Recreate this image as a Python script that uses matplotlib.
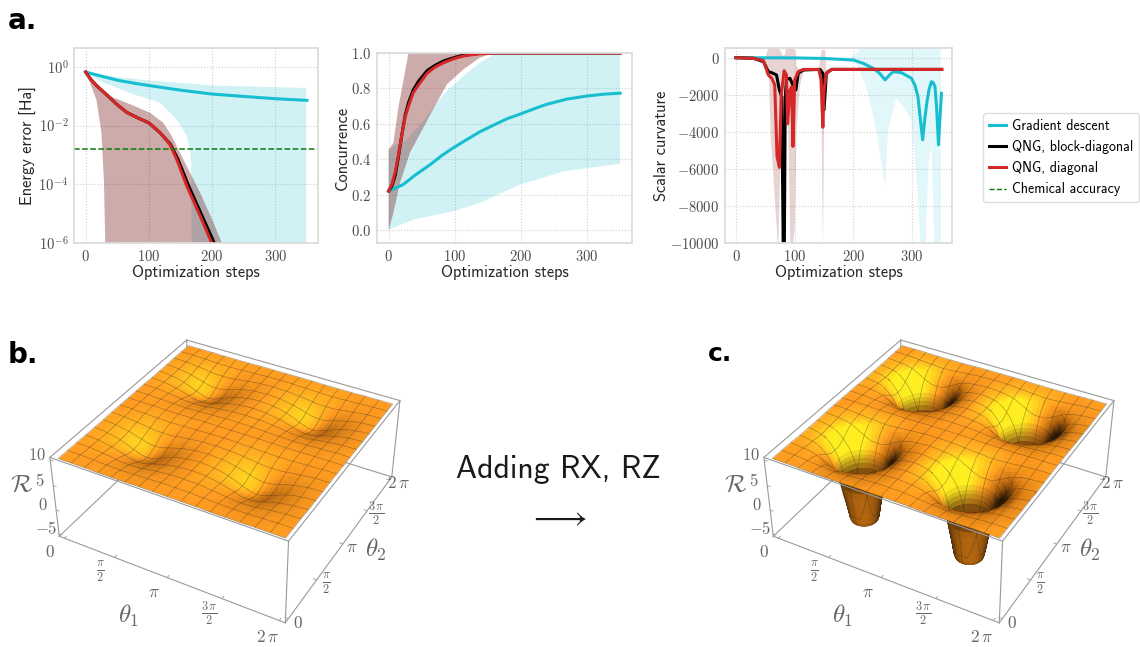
import numpy as np
import matplotlib
matplotlib.use('Agg')
import matplotlib.pyplot as plt
from matplotlib.colors import LinearSegmentedColormap
from mpl_toolkits.mplot3d import proj3d
from mpl_toolkits.mplot3d.art3d import Poly3DCollection

plt.rcParams['font.family'] = ['cmss10']
plt.rcParams['mathtext.fontset'] = 'cm'
plt.rcParams['mathtext.default'] = 'rm'
plt.rcParams['axes.unicode_minus'] = False

CYAN = '#17becf'
RED = '#d62728'

# panel a: energy error
gd_steps = [0, 25, 50, 75, 100, 150, 200, 250, 300, 350]
gd_energy = [0.66, 0.48, 0.35, 0.28, 0.23, 0.16, 0.118, 0.098, 0.082, 0.072]
gd_up_steps = [0, 49, 102, 202, 349]
gd_up_energy = [0.66, 0.45, 0.34, 0.23, 0.19]
gd_low_steps = [349, 168, 167, 165, 160, 144, 118, 75, 23, 0]
gd_low_energy = [1e-8, 1e-8, 5.4e-4, 1.5e-3, 4.4e-3, 1.6e-2, 5.9e-2, 0.117, 0.32, 0.66]
qng_steps = [0, 7, 17, 33, 50, 65, 83, 100, 118, 133, 144, 160, 181, 199, 205]
red_energy = [0.66, 0.40, 0.23, 0.112, 0.051, 0.028, 0.018, 0.0123, 5.6e-3, 2.3e-3, 7.1e-4, 8.7e-5, 8.5e-6, 1.05e-6, 4e-7]
black_steps = [0, 7, 17, 33, 50, 65, 83, 100, 118, 134, 146, 163, 184, 203, 209]
qng_up_steps = [0, 12, 23, 43, 75, 102, 123, 136, 149, 165, 181, 202, 215, 225]
qng_up_energy = [0.66, 0.32, 0.16, 0.091, 0.048, 0.027, 0.0123, 4.4e-3, 1.2e-3, 2.5e-4, 5.2e-5, 5e-6, 1.05e-6, 1e-7]
qng_low_steps = [33, 31, 29, 25, 17, 7, 0]
qng_low_energy = [1e-8, 1.05e-6, 1.15e-4, 5.6e-3, 7.6e-2, 0.28, 0.66]
chem_accuracy = 1.6e-3

# panel b: concurrence
gd_c_steps = [0, 22, 40, 63, 80, 98, 120, 138, 160, 180, 199, 220, 239, 270, 300, 325, 350]
gd_conc = [0.22, 0.257, 0.31, 0.37, 0.42, 0.465, 0.515, 0.555, 0.595, 0.63, 0.655, 0.685, 0.71, 0.74, 0.757, 0.767, 0.773]
gd_c_up_steps = [0, 12, 25, 52, 83, 88, 113, 138, 159, 164, 350]
gd_c_up = [0.455, 0.483, 0.50, 0.615, 0.766, 0.785, 0.87, 0.945, 0.992, 1.0, 1.0]
gd_c_low_steps = [350, 265, 199, 138, 98, 37, 12, 0]
gd_c_low = [0.374, 0.332, 0.257, 0.153, 0.106, 0.058, 0.02, 0.0]
qng_c_steps = [0, 5, 10, 15, 20, 25, 30, 37, 45, 58, 70, 83, 100, 113, 138, 164, 350]
red_conc = [0.22, 0.26, 0.33, 0.43, 0.54, 0.64, 0.70, 0.775, 0.82, 0.885, 0.92, 0.945, 0.97, 0.983, 0.996, 1.0, 1.0]
black_conc = [0.22, 0.25, 0.31, 0.42, 0.54, 0.65, 0.72, 0.79, 0.84, 0.90, 0.93, 0.955, 0.975, 0.988, 0.998, 1.0, 1.0]
qng_c_up_steps = [0, 7, 15, 30, 350]
qng_c_up = [0.455, 0.49, 0.70, 1.0, 1.0]
qng_c_low_steps = [350, 159, 138, 113, 88, 63, 32, 17, 7, 0]
qng_c_low = [1.0, 1.0, 0.974, 0.908, 0.823, 0.653, 0.436, 0.266, 0.096, 0.0]

# panel c: scalar curvature
gd_r_steps = [0, 100, 150, 200, 217, 234, 245, 254, 261, 268, 282, 299, 305, 310, 314, 318, 322, 325, 329, 333, 336, 339, 342, 345, 348, 350]
gd_curv = [0, -10, -40, -125, -305, -575, -850, -1200, -950, -750, -810, -1110, -1500, -2100, -3300, -4430, -3200, -2460, -1700, -1290, -1350, -1560, -2800, -4700, -3000, -1920]
gd_r_up_steps = [0, 195, 214, 349]
gd_r_up = [0, 0, 500, 2000]
gd_r_low_steps = [349, 345, 338, 333, 328, 323, 318, 314, 310, 299, 285, 273, 259, 254, 239, 222, 205, 195, 0]
gd_r_low = [-10000, -13000, -10000, -4700, -5700, -10000, -13000, -10000, -7490, -3360, -2640, -2190, -3900, -6950, -3900, -1560, -305, -40, 0]
black_r_steps = [0, 30, 47, 55, 61, 69, 74, 78, 81, 82, 84, 86, 92, 98, 102, 106, 115, 143, 148, 150, 154, 163, 350]
black_curv = [0, -30, -215, -750, -810, -930, -1740, -2100, -12000, -12000, -2100, -1170, -1110, -1560, -1740, -840, -660, -630, -840, -2820, -840, -630, -630]
red_r_steps = [0, 30, 47, 55, 61, 66, 70, 74, 77, 82, 86, 88, 92, 95, 97, 100, 106, 115, 141, 145, 148, 150, 154, 163, 351]
red_curv = [0, -36, -160, -930, -1110, -1470, -5330, -5920, -2100, -700, -930, -3570, -1740, -1560, -4790, -1200, -750, -630, -630, -1200, -3750, -1740, -840, -630, -630]
qng_r_up_steps = [0, 50, 56, 72, 80, 83, 86, 100, 103, 109, 141, 146, 152, 154, 350]
qng_r_up = [0, 0, 600, 600, 100, 150, 600, 600, -480, -630, -630, 420, 420, -630, -630]
qng_r_low_steps = [350, 163, 153, 150, 148, 146, 141, 115, 109, 103, 100, 95, 93, 89, 82, 78, 72, 59, 56, 50, 0]
qng_r_low = [-630, -630, -840, -3900, -10500, -3900, -630, -750, -1500, -3900, -9300, -10500, -10500, -3900, -1300, -2000, -10500, -4000, -1000, -100, 0]

step_ticks = [0, 100, 200, 300]
step_labels = ['$0$', '$100$', '$200$', '$300$']
energy_ticks = [1, 1e-2, 1e-4, 1e-6]
energy_labels = ['$10^{0}$', '$10^{-2}$', '$10^{-4}$', '$10^{-6}$']
conc_ticks = [0.0, 0.2, 0.4, 0.6, 0.8, 1.0]
conc_labels = ['$0.0$', '$0.2$', '$0.4$', '$0.6$', '$0.8$', '$1.0$']
curv_ticks = [0, -2000, -4000, -6000, -8000, -10000]
curv_labels = ['$0$', '$-2000$', '$-4000$', '$-6000$', '$-8000$', '$-10000$']

# curvature over one pi x pi cell, centre of a dip at index [0][0], spacing pi/24
cell_b = np.array([
    [7.4, 7.5, 7.8, 8.1, 8.5, 8.85, 9.15, 9.4, 9.6, 9.7, 9.85, 9.9, 9.95],
    [7.5, 7.6, 7.85, 8.15, 8.55, 8.9, 9.15, 9.4, 9.6, 9.75, 9.85, 9.9, 9.95],
    [7.8, 7.85, 8.05, 8.3, 8.65, 9.0, 9.2, 9.45, 9.6, 9.75, 9.85, 9.9, 9.95],
    [8.1, 8.15, 8.3, 8.6, 8.85, 9.1, 9.3, 9.5, 9.65, 9.8, 9.85, 9.9, 9.95],
    [8.5, 8.55, 8.65, 8.85, 9.05, 9.25, 9.45, 9.6, 9.7, 9.8, 9.9, 9.95, 9.95],
    [8.85, 8.9, 9.0, 9.1, 9.25, 9.4, 9.55, 9.7, 9.75, 9.85, 9.9, 9.95, 10],
    [9.15, 9.15, 9.2, 9.3, 9.45, 9.55, 9.65, 9.75, 9.85, 9.9, 9.95, 9.95, 10],
    [9.4, 9.4, 9.45, 9.5, 9.6, 9.7, 9.75, 9.8, 9.9, 9.9, 9.95, 10, 10],
    [9.6, 9.6, 9.6, 9.65, 9.7, 9.75, 9.85, 9.9, 9.9, 9.95, 10, 10, 10],
    [9.7, 9.75, 9.75, 9.8, 9.8, 9.85, 9.9, 9.9, 9.95, 10, 10, 10, 10],
    [9.85, 9.85, 9.85, 9.85, 9.9, 9.9, 9.95, 9.95, 10, 10, 10, 10, 10],
    [9.9, 9.9, 9.9, 9.9, 9.95, 9.95, 9.95, 10, 10, 10, 10, 10, 10],
    [9.95, 9.95, 9.95, 9.95, 9.95, 10, 10, 10, 10, 10, 10, 10, 10],
])
cell_c = np.array([
    [-5, -5, -5, -5, 1.2, 5.0, 7.0, 8.2, 9.0, 9.4, 9.65, 9.8, 9.9],
    [-5, -5, -5, -4.5, 1.8, 5.2, 7.1, 8.3, 9.0, 9.4, 9.65, 9.8, 9.9],
    [-5, -5, -5, -1, 3.4, 5.9, 7.4, 8.4, 9.1, 9.5, 9.7, 9.8, 9.9],
    [-5, -4.5, -1, 2.4, 5.0, 6.7, 7.9, 8.7, 9.3, 9.55, 9.7, 9.85, 9.9],
    [1.2, 1.8, 3.4, 5.0, 6.4, 7.5, 8.4, 9.0, 9.4, 9.6, 9.75, 9.85, 9.9],
    [5.0, 5.2, 5.9, 6.7, 7.5, 8.3, 8.9, 9.3, 9.55, 9.7, 9.8, 9.9, 9.95],
    [7.0, 7.1, 7.4, 7.9, 8.4, 8.9, 9.2, 9.5, 9.65, 9.75, 9.85, 9.9, 9.95],
    [8.2, 8.3, 8.4, 8.7, 9.0, 9.3, 9.5, 9.6, 9.75, 9.85, 9.9, 9.95, 10],
    [9.0, 9.0, 9.1, 9.3, 9.4, 9.55, 9.65, 9.75, 9.85, 9.9, 9.95, 10, 10],
    [9.4, 9.4, 9.5, 9.55, 9.6, 9.7, 9.75, 9.85, 9.9, 9.95, 10, 10, 10],
    [9.65, 9.65, 9.7, 9.7, 9.75, 9.8, 9.85, 9.9, 9.95, 10, 10, 10, 10],
    [9.8, 9.8, 9.8, 9.85, 9.85, 9.9, 9.9, 9.95, 10, 10, 10, 10, 10],
    [9.9, 9.9, 9.9, 9.9, 9.9, 9.95, 9.95, 10, 10, 10, 10, 10, 10],
])
# wall of the deep dips in panel c, radius from the dip centre against curvature
tube_radius = [0, 0.36, 0.39, 0.42, 0.45, 0.48, 0.51, 0.54, 0.57, 0.60, 0.63, 0.66, 0.70, 0.75, 0.80, 0.85, 0.90, 0.95, 1.00, 1.05, 1.10]
tube_height = [-5, -5, -4.4, -3.2, -1.9, -0.7, 0.4, 1.6, 2.8, 3.7, 4.5, 5.1, 5.9, 6.55, 7.15, 7.6, 8.05, 8.4, 8.7, 9.0, 9.2]
dip_centres = [np.pi / 2, 3 * np.pi / 2]
mesh_offsets = [-np.pi / 4, -np.pi / 8, 0, np.pi / 8, np.pi / 4]

angle_ticks = [0, np.pi / 2, np.pi, 3 * np.pi / 2, 2 * np.pi]
angle_labels = ['$0$', r'$\frac{\pi}{2}$', r'$\pi$', r'$\frac{3\,\pi}{2}$', r'$2\,\pi$']
curv_3d_ticks = [-5, 0, 5, 10]
curv_3d_labels = ['$-5$', '$0$', '$5$', '$10$']

W, H = 1140, 647
ELEV, AZIM, FOCAL = 36.5, -61, 0.45
XLIM = (-0.16, 2 * np.pi + 0.16)
ZLIM = (-5.5, 10.5)
BOX_Z = 0.385
LIGHT = np.array([0.72, -0.42, 0.55])
ramp = LinearSegmentedColormap.from_list(
    'mma', [(0, '#2a1500'), (0.35, '#b5630c'), (0.667, '#ff9b1e'), (1, '#ffee1e')])

el_rad, az_rad = np.radians(ELEV), np.radians(AZIM)
CAM = np.array([np.cos(el_rad) * np.cos(az_rad), np.cos(el_rad) * np.sin(az_rad), np.sin(el_rad)])
SX = 1 / (XLIM[1] - XLIM[0])
SZ = BOX_Z / (ZLIM[1] - ZLIM[0])
LIFT = 0.03 * CAM / np.array([SX, SX, SZ])

fig = plt.figure(figsize=(W / 100, H / 100), dpi=100, facecolor='white')


def rect(left, top, right, bottom):
    return [left / W, 1 - bottom / H, (right - left) / W, (bottom - top) / H]


def style_axis(ax, xt, xl, yt, yl, ylabel):
    ax.set_xticks(xt)
    ax.set_xticklabels(xl)
    ax.set_yticks(yt)
    ax.set_yticklabels(yl)
    ax.minorticks_off()
    ax.tick_params(length=0, labelsize=10.5, labelcolor='#4a4a4a', pad=4)
    ax.grid(True, color='#cfcfcf', linestyle=':', linewidth=0.8)
    ax.set_axisbelow(True)
    for s in ax.spines.values():
        s.set_color('#dcdcdc')
        s.set_linewidth(1.3)
    ax.set_xlabel('Optimization steps', fontsize=11.8, color='#262626', labelpad=1)
    ax.set_ylabel(ylabel, fontsize=11.8, color='#262626', labelpad=1)


# top row
ax1 = fig.add_axes(rect(74, 48, 318, 243))
ax1.set_yscale('log')
ax1.fill(gd_up_steps + gd_low_steps, gd_up_energy + gd_low_energy, color=CYAN, alpha=0.2, lw=0)
ax1.fill(qng_up_steps + qng_low_steps, qng_up_energy + qng_low_energy, color='black', alpha=0.2, lw=0)
ax1.fill(qng_up_steps + qng_low_steps, qng_up_energy + qng_low_energy, color=RED, alpha=0.2, lw=0)
ax1.plot(gd_steps, gd_energy, color=CYAN, lw=2.2)
ax1.plot(black_steps, red_energy, color='black', lw=2.2)
ax1.plot(qng_steps, red_energy, color=RED, lw=2.2)
ax1.axhline(chem_accuracy, color='#0a7a0a', ls='--', lw=1.1)
ax1.set_xlim(-18.5, 367.6)
ax1.set_ylim(1e-6, 10 ** 0.64)
style_axis(ax1, step_ticks, step_labels, energy_ticks, energy_labels, 'Energy error [Ha]')

ax2 = fig.add_axes(rect(377, 53, 632, 243))
ax2.fill(gd_c_up_steps + gd_c_low_steps, gd_c_up + gd_c_low, color=CYAN, alpha=0.2, lw=0)
ax2.fill(qng_c_up_steps + qng_c_low_steps, qng_c_up + qng_c_low, color='black', alpha=0.2, lw=0)
ax2.fill(qng_c_up_steps + qng_c_low_steps, qng_c_up + qng_c_low, color=RED, alpha=0.2, lw=0)
ax2.plot(gd_c_steps, gd_conc, color=CYAN, lw=2.2)
ax2.plot(qng_c_steps, black_conc, color='black', lw=2.2)
ax2.plot(qng_c_steps, red_conc, color=RED, lw=2.2)
ax2.set_xlim(-17.7, 368)
ax2.set_ylim(-0.0736, 1.0)
style_axis(ax2, step_ticks, step_labels, conc_ticks, conc_labels, 'Concurrence')

ax3 = fig.add_axes(rect(725, 48, 952, 243))
ax3.fill(gd_r_up_steps + gd_r_low_steps, gd_r_up + gd_r_low, color=CYAN, alpha=0.12, lw=0)
ax3.fill(qng_r_up_steps + qng_r_low_steps, qng_r_up + qng_r_low, color='black', alpha=0.08, lw=0)
ax3.fill(qng_r_up_steps + qng_r_low_steps, qng_r_up + qng_r_low, color=RED, alpha=0.12, lw=0)
ax3.plot(gd_r_steps, gd_curv, color=CYAN, lw=2.2, label='Gradient descent')
ax3.plot(black_r_steps, black_curv, color='black', lw=2.2, label='QNG, block-diagonal')
ax3.plot(red_r_steps, red_curv, color=RED, lw=2.2, label='QNG, diagonal')
ax3.plot([], [], color='#0a7a0a', ls='--', lw=1.0, label='Chemical accuracy')
ax3.set_xlim(-18.7, 368)
ax3.set_ylim(-10000, 525)
style_axis(ax3, step_ticks, step_labels, curv_ticks, curv_labels, 'Scalar curvature')
ax3.legend(loc='upper left', bbox_to_anchor=(983 / W, 1 - 113 / H), bbox_transform=fig.transFigure,
           fontsize=10, frameon=True, fancybox=True, framealpha=1, edgecolor='#dddddd',
           borderaxespad=0, borderpad=0.42, handlelength=1.22, handletextpad=0.42, labelspacing=0.52)


def shade(fx, fy, fz, zc, gain):
    """colour of a facet from its upward normal and height"""
    lit = fx * LIGHT[0] + fy * LIGHT[1] + fz * LIGHT[2]
    t = np.clip((gain * (lit - LIGHT[2]) + 0.7) / 1.05, 0, 1)
    rgba = ramp(t)
    # low on the walls it turns brown, dark towards the silhouette
    f = fx * CAM[0] + fy * CAM[1] + fz * CAM[2]
    k = (0.35 + 0.9 * np.abs(f)) * np.where(f > 0, 0.6, 1.0)
    wall = np.array([0.72, 0.41, 0.06]) * k[..., None]
    w = np.clip((6.0 - zc) / 4.0, 0, 1)[..., None]
    rgba[..., :3] = rgba[..., :3] * (1 - w) + np.clip(wall, 0, 1) * w
    return rgba


def tube_parts(cx, cy):
    """facets of one deep dip, from the radial arrays"""
    r = np.array(tube_radius)
    h = np.array(tube_height)
    phi = np.arange(49) * np.pi / 24
    x = cx + np.outer(r, np.cos(phi))
    y = cy + np.outer(r, np.sin(phi))
    z = np.outer(h, np.ones(49))
    pts = np.stack([x, y, z], axis=-1)
    faces = np.stack([pts[:-1, :-1], pts[1:, :-1], pts[1:, 1:], pts[:-1, 1:]], axis=2).reshape(-1, 4, 3)
    slope = np.diff(h) * SZ / (np.diff(r) * SX)
    mid = (phi[:-1] + phi[1:]) / 2
    nrm = np.sqrt(slope ** 2 + 1)
    fx = np.outer(-slope / nrm, np.cos(mid))
    fy = np.outer(-slope / nrm, np.sin(mid))
    fz = np.outer(1 / nrm, np.ones(48))
    zc = np.outer((h[:-1] + h[1:]) / 2, np.ones(48))
    return faces, fx.ravel(), fy.ravel(), fz.ravel(), zc.ravel()


def tube_mesh(cx, cy):
    """mesh lines where the grid planes cut one deep dip"""
    seg = []
    r = np.array(tube_radius)[1:]
    h = np.array(tube_height)[1:]
    for d in mesh_offsets:
        keep = r > abs(d)
        off = np.sqrt(r[keep] ** 2 - d ** 2)
        zz = h[keep]
        if d != 0:
            path = np.concatenate([-off[::-1], off])
            hh = np.concatenate([zz[::-1], zz])
            for a, b, za, zb in zip(path[:-1], path[1:], hh[:-1], hh[1:]):
                seg.append([[cx + d, cy + a, za], [cx + d, cy + b, zb], [cx + d, cy + b, zb], [cx + d, cy + a, za]])
                seg.append([[cx + a, cy + d, za], [cx + b, cy + d, zb], [cx + b, cy + d, zb], [cx + a, cy + d, za]])
        else:
            for sign in [-1, 1]:
                for a, b, za, zb in zip(sign * off[:-1], sign * off[1:], zz[:-1], zz[1:]):
                    seg.append([[cx, cy + a, za], [cx, cy + b, zb], [cx, cy + b, zb], [cx, cy + a, za]])
                    seg.append([[cx + a, cy, za], [cx + b, cy, zb], [cx + b, cy, zb], [cx + a, cy, za]])
    return seg


def surface_panel(ax, cell, gain, deep=False):
    ax.set_proj_type('persp', focal_length=FOCAL)
    ax.view_init(elev=ELEV, azim=AZIM)
    ax.set_xlim(*XLIM, view_margin=0)
    ax.set_ylim(*XLIM, view_margin=0)
    ax.set_zlim(*ZLIM, view_margin=0)
    ax.set_box_aspect((1, 1, BOX_Z), zoom=0.775)
    ax.set_xticks([])
    ax.set_yticks([])
    ax.set_zticks([])
    ax.set_axis_off()
    ax.patch.set_alpha(0)

    # tile the cell over the whole 0..2pi square
    k = np.arange(49)
    idx = np.abs(k % 24 - 12)
    z = cell[np.ix_(idx, idx)]
    grid = k * np.pi / 24
    xx, yy = np.meshgrid(grid, grid, indexing='ij')

    dzx, dzy = np.gradient(z * SZ, grid * SX, grid * SX)
    nrm = np.sqrt(dzx ** 2 + dzy ** 2 + 1)
    nx, ny, nz = -dzx / nrm, -dzy / nrm, 1 / nrm

    def corners(a):
        return (a[:-1, :-1] + a[1:, :-1] + a[1:, 1:] + a[:-1, 1:]) / 4

    fx, fy, fz, zc = corners(nx), corners(ny), corners(nz), corners(z)
    rgba = shade(fx, fy, fz, zc, gain).reshape(-1, 4)
    pts = np.stack([xx, yy, z], axis=-1)
    faces = np.stack([pts[:-1, :-1], pts[1:, :-1], pts[1:, 1:], pts[:-1, 1:]], axis=2).reshape(-1, 4, 3)

    # mesh lines go in the same collection so they sort with the faces
    seg = []
    for m in range(0, 49, 3):
        for n in range(48):
            if not deep or min(z[m, n], z[m, n + 1]) > 8.9:
                seg.append([pts[m, n], pts[m, n + 1], pts[m, n + 1], pts[m, n]])
            if not deep or min(z[n, m], z[n + 1, m]) > 8.9:
                seg.append([pts[n, m], pts[n + 1, m], pts[n + 1, m], pts[n, m]])

    if deep:
        keep = zc.ravel() > 8.85
        faces = faces[keep]
        rgba = rgba[keep]
        for cx in dip_centres:
            for cy in dip_centres:
                tf, tx, ty, tz, tc = tube_parts(cx, cy)
                faces = np.concatenate([faces, tf])
                rgba = np.vstack([rgba, shade(tx, ty, tz, tc, gain)])
                seg += tube_mesh(cx, cy)

    seg = np.array(seg) + LIFT
    fc = np.vstack([rgba, np.zeros((len(seg), 4))])
    ec = np.vstack([rgba, np.tile([0.22, 0.18, 0.12, 0.5], (len(seg), 1))])
    ax.add_collection3d(Poly3DCollection(np.concatenate([faces, seg]), facecolors=fc,
                                         edgecolors=ec, linewidths=0.4))

    # box
    x0, x1 = XLIM
    z0, z1 = ZLIM
    box = dict(color='#9a9a9a', lw=0.8)
    ax.plot([x0, x1], [x0, x0], [z0, z0], **box)
    ax.plot([x1, x1], [x0, x1], [z0, z0], **box)
    ax.plot([x0, x0], [x0, x1], [z0, z0], **box)
    ax.plot([x0, x1], [x1, x1], [z0, z0], **box)
    ax.plot([x0, x0], [x1, x1], [z0, z1], **box)
    ax.plot([x0, x0], [x0, x0], [z0, z1], zorder=10, **box)
    ax.plot([x1, x1], [x0, x0], [z0, z1], zorder=10, **box)
    ax.plot([x1, x1], [x1, x1], [z0, z1], zorder=10, **box)
    ax.plot([x0, x1], [x0, x0], [z1, z1], zorder=10, **box)
    ax.plot([x1, x1], [x0, x1], [z1, z1], zorder=10, **box)
    ax.plot([x0, x1], [x1, x1], [z1, z1], zorder=10, **box)
    ax.plot([x0, x0], [x0, x1], [z1, z1], zorder=10, **box)

    proj = ax.get_proj()

    def label(x, y, zv, s, size):
        px, py, _ = proj3d.proj_transform(x, y, zv, proj)
        ax.text2D(px, py, s, transform=ax.transData, fontsize=size, color='#666666',
                  ha='center', va='center', zorder=11)

    tick = dict(color='#9a9a9a', lw=0.6)
    for v, lab in zip(angle_ticks, angle_labels):
        ax.plot([v, v], [x0, x0 + 0.09], [z0, z0], **tick)
        ax.plot([x1, x1 - 0.09], [v, v], [z0, z0], **tick)
        label(v, x0 - 0.62, z0, lab, 12.5)
        label(x1 + 0.27, v, z0, lab, 12.5)
    for v, lab in zip(curv_3d_ticks, curv_3d_labels):
        ax.plot([x0, x0 + 0.09], [x0, x0], [v, v], **tick)
        label(x0 - 0.42, x0, v, lab, 12)
    label(np.pi - 0.1, x0 - 1.6, z0, r'$\theta_1$', 18)
    label(x1 + 0.85, np.pi + 0.2, z0, r'$\theta_2$', 18)
    label(x0 - 0.5, x0 - 0.6, 6.5, r'$\mathcal{R}$', 18)


ax4 = fig.add_axes(rect(-5, 244, 455, 704), projection='3d')
surface_panel(ax4, cell_b, 0.8)
ax5 = fig.add_axes(rect(709, 244, 1169, 704), projection='3d')
surface_panel(ax5, cell_c, 1.0, deep=True)

fig.text(8 / W, 1 - 29 / H, 'a.', fontsize=20, fontweight='bold', family='DejaVu Sans', color='black')
fig.text(8 / W, 1 - 363 / H, 'b.', fontsize=20, fontweight='bold', family='DejaVu Sans', color='black')
fig.text(708 / W, 1 - 361 / H, 'c.', fontsize=18, fontweight='bold', family='DejaVu Sans', color='black')
fig.text(558 / W, 1 - 469 / H, 'Adding RX, RZ', fontsize=22.8, ha='center', va='center', color='#1a1a1a')
fig.text(558 / W, 1 - 518 / H, r'$\longrightarrow$', fontsize=24.5, ha='center', va='center', color='#1a1a1a')

fig.savefig('out.png', dpi=100)
